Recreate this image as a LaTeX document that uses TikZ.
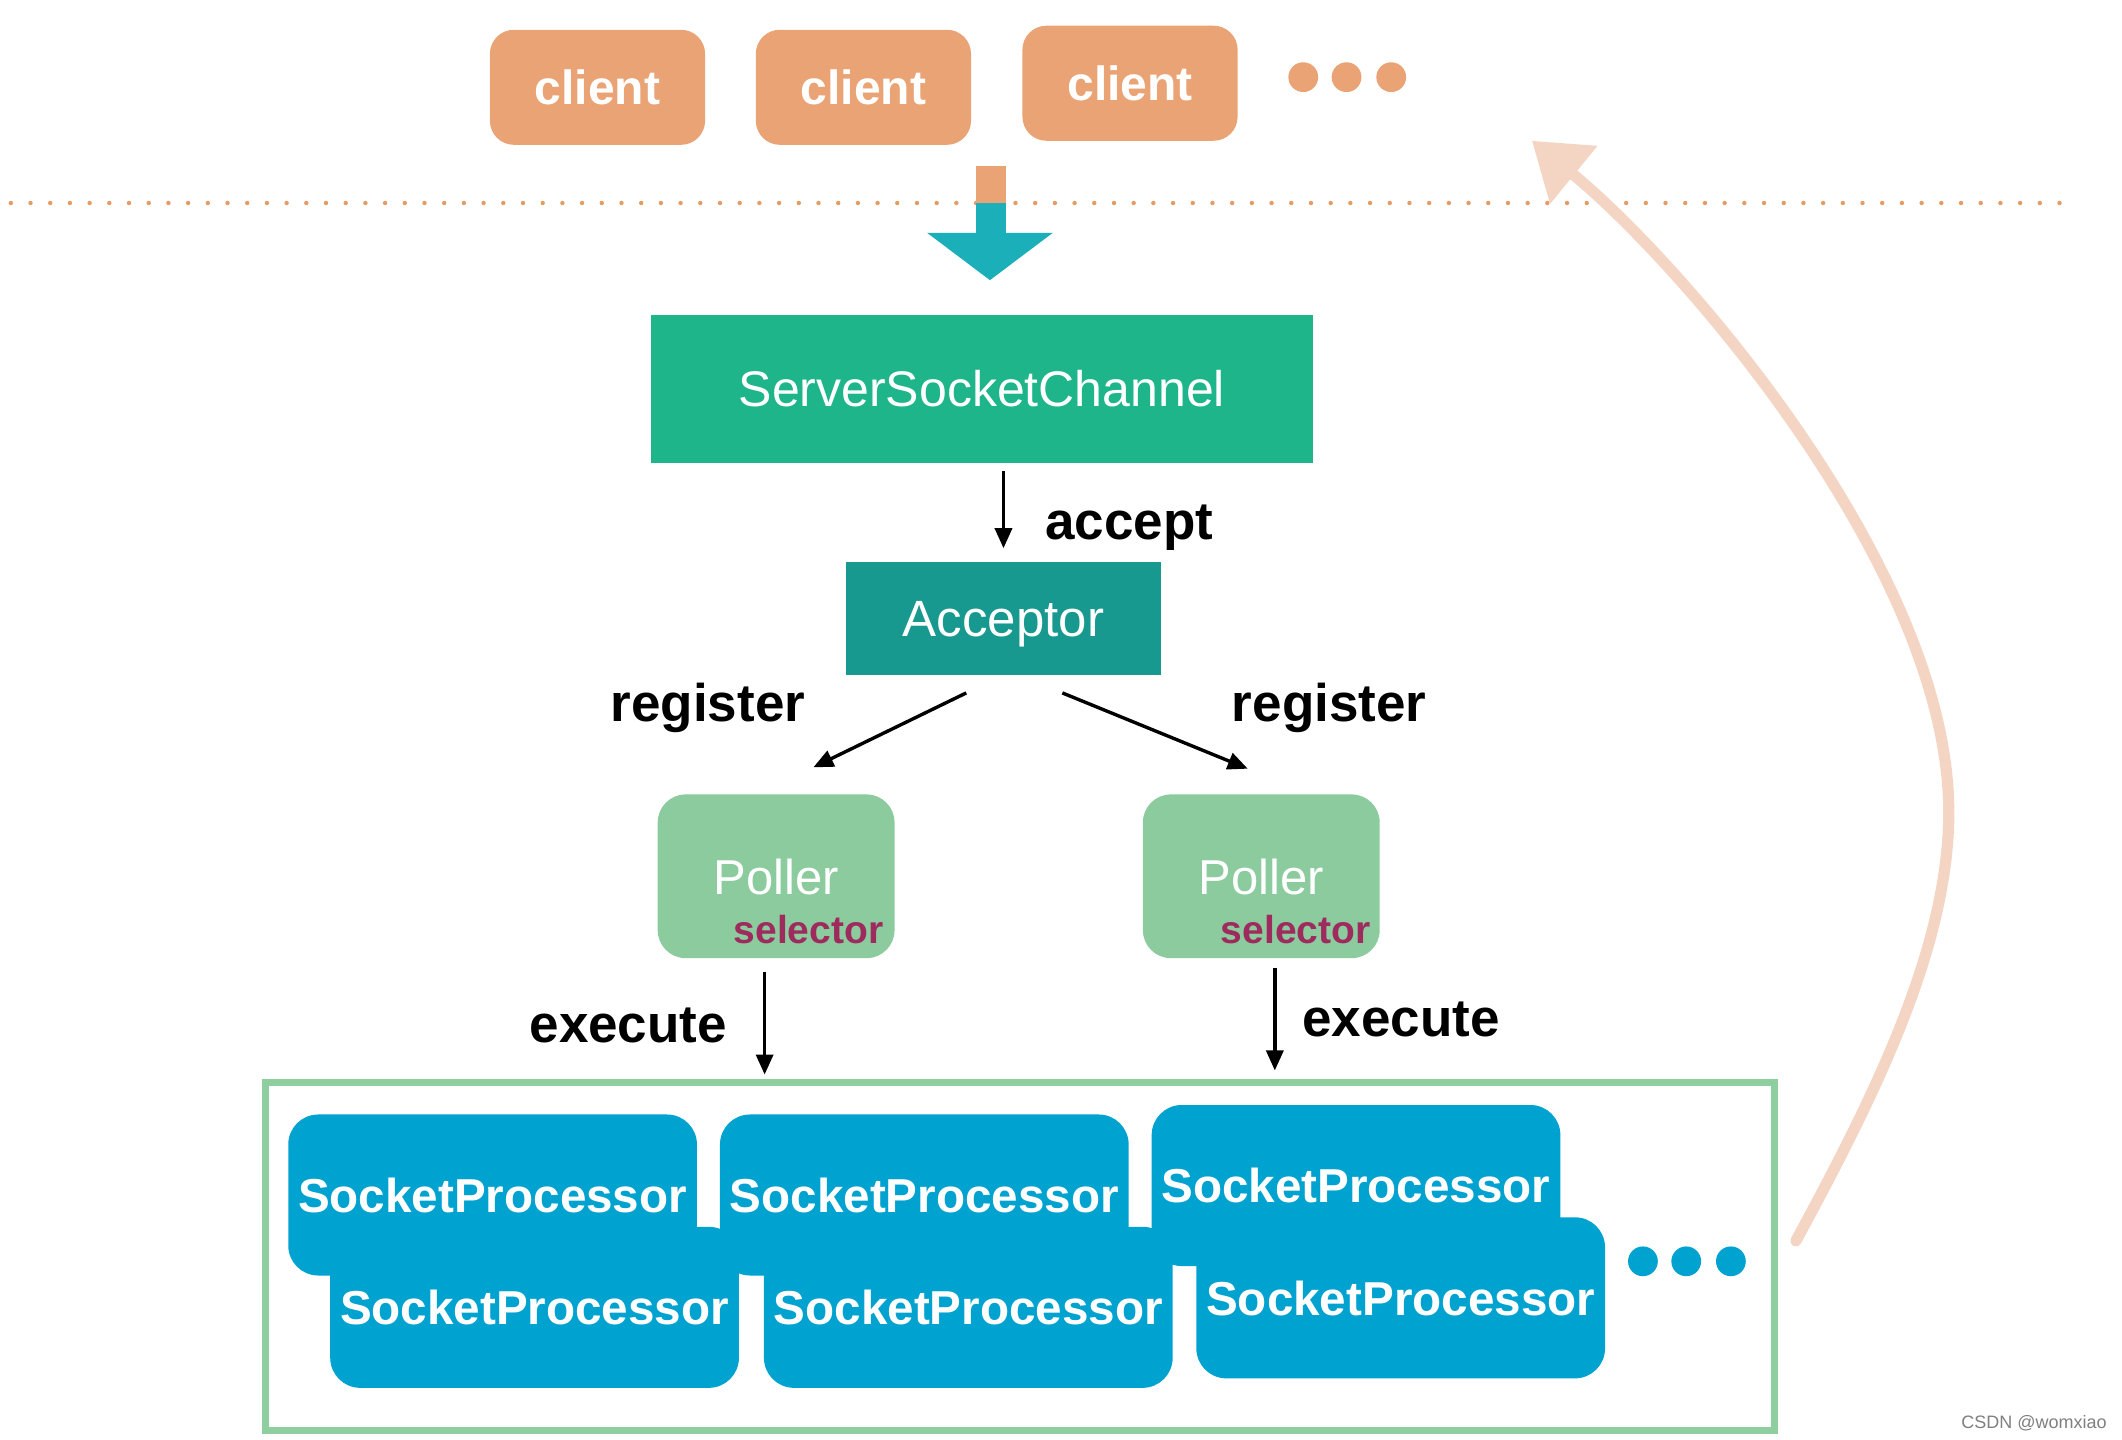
\documentclass[tikz,border=0pt]{standalone}
\usepackage{fontspec}
\setmainfont{Liberation Sans}
\usetikzlibrary{arrows.meta,calc}
\definecolor{clientc}{HTML}{E9A374}
\definecolor{dotc}{HTML}{E59B62}
\definecolor{tealar}{HTML}{1BAFBA}
\definecolor{sscc}{HTML}{1DB589}
\definecolor{accc}{HTML}{17998F}
\definecolor{pollc}{HTML}{8BCB9E}
\definecolor{boxc}{HTML}{8FCF9F}
\definecolor{spc}{HTML}{00A2D0}
\definecolor{selc}{HTML}{9E2A5E}
\definecolor{curvec}{HTML}{F4D5C4}
\def\unitpx{0.6767pt}
\begin{document}
\begin{tikzpicture}[x=0.6767pt,y=-0.6767pt,
  clientbox/.style={fill=clientc, rounded corners=12pt, minimum width=159*\unitpx, minimum height=85*\unitpx, inner sep=0pt, text=white, font=\bfseries\fontsize{24}{24}\selectfont},
  sscbox/.style={fill=sscc, minimum width=489*\unitpx, minimum height=109*\unitpx, inner sep=0pt, text=white, font=\fontsize{25}{25}\selectfont},
  accbox/.style={fill=accc, minimum width=233*\unitpx, minimum height=84*\unitpx, inner sep=0pt, text=white, text depth=0pt, font=\fontsize{25.5}{25.5}\selectfont},
  pollbox/.style={fill=pollc, rounded corners=14pt, minimum width=175*\unitpx, minimum height=121*\unitpx, inner sep=0pt, text=white, text depth=0pt, font=\fontsize{24.5}{24.5}\selectfont},
  seltext/.style={anchor=east, inner sep=0pt, text=selc, text depth=0pt, font=\bfseries\fontsize{19.5}{19.5}\selectfont},
  spbox/.style={fill=spc, rounded corners=15pt, minimum width=302*\unitpx, minimum height=119*\unitpx, inner sep=0pt, text=white, text depth=0pt, font=\bfseries\fontsize{23.8}{23.8}\selectfont},
  lbl/.style={anchor=base west, inner sep=0pt, font=\bfseries\fontsize{26.5}{26.5}\selectfont},
  arr/.style={-{Triangle[length=10pt,width=8.5pt]}, line width=1.7pt},
  dotfill/.style={circle, inner sep=0pt, minimum size=22*\unitpx}
]
\useasboundingbox[fill=white] (0,0) rectangle (1568,1064);

% dotted separator
\draw[dotc, line width=2.2pt, dash pattern=on 0pt off 9.85pt, line cap=round] (8,150) -- (1522,150);

% clients
\node[clientbox] (c1) at (441.5,64.5) {client};
\node[clientbox] (c2) at (638,64.5) {client};
\node[clientbox] (c3) at (835,61.5) {client};
\node[dotfill, fill=clientc] (od1) at (963,57) {};
\node[dotfill, fill=clientc] (od2) at (995,57) {};
\node[dotfill, fill=clientc] (od3) at (1028,57) {};

% big down arrow
\fill[clientc] (721,123) rectangle (743,150);
\fill[tealar] (721,150) rectangle (743,173);
\fill[tealar] (685,172) -- (778,172) -- (731.5,207) -- cycle;

% main nodes
\node[sscbox] (ssc) at (725.5,287.5) {ServerSocketChannel};
\node[accbox] (acc) at (741.5,457) {Acceptor};
\node[pollbox] (p1) at (573.5,647.5) {Poller};
\node[pollbox] (p2) at (932,647.5) {Poller};
\node[seltext] (s1) at (653,687) {selector};
\node[seltext] (s2) at (1013,687) {selector};

% container
\node[draw=boxc, line width=3.4pt, minimum width=1115*\unitpx, minimum height=257*\unitpx, inner sep=0pt] (pool) at (753.5,928.5) {};

% socket processors (bottom row first)
\node[spbox] (b1) at (395,966) {SocketProcessor};
\node[spbox] (b2) at (715.5,966) {SocketProcessor};
\node[spbox] (b3) at (1035,959) {SocketProcessor};
\node[spbox] (t1) at (364,883) {SocketProcessor};
\node[spbox] (t2) at (683,883) {SocketProcessor};
\node[spbox] (t3) at (1002,876) {SocketProcessor};
\node[dotfill, fill=spc] (bd1) at (1214,932) {};
\node[dotfill, fill=spc] (bd2) at (1246,932) {};
\node[dotfill, fill=spc] (bd3) at (1279,932) {};

% connectors
\coordinate (accTop) at (acc.north |- ssc.south);
\draw[arr, shorten <=4pt, shorten >=6.5pt] (accTop) -- (acc.north);
\coordinate (rl1) at (714,512);
\coordinate (rl2) at (601,567);
\coordinate (rr1) at (785,512);
\coordinate (rr2) at (922,568);
\draw[arr] (rl1) -- (rl2);
\draw[arr] (rr1) -- (rr2);
\coordinate (el1) at (565,718);
\coordinate (el2) at (565,794);
\coordinate (er1) at (942,715);
\coordinate (er2) at (942,791);
\draw[arr] (el1) -- (el2);
\draw[arr] (er1) -- (er2);

% labels
\node[lbl] (laccept) at (772,399) {accept};
\node[lbl] (lreg1) at (451,533) {register};
\node[lbl] (lreg2) at (910,533) {register};
\node[lbl] (lex1) at (391,770) {execute};
\node[lbl] (lex2) at (962,766) {execute};

% return curve
\coordinate (cv1) at (1327,917);
\coordinate (cvm) at (1440,600);
\coordinate (cv2) at (1132,104);
\draw[curvec, line width=5.6pt, line cap=round, -{Triangle[length=27pt,width=36pt]}]
  (cv1) .. controls (1385,810) and (1440,700) .. (cvm)
        .. controls (1440,420) and (1241,193) .. (cv2);

% watermark
\node[anchor=east, inner sep=0pt, text=black!50, font=\fontsize{9}{9}\selectfont] (wm) at (1557,1052) {CSDN @womxiao};
\end{tikzpicture}
\end{document}
